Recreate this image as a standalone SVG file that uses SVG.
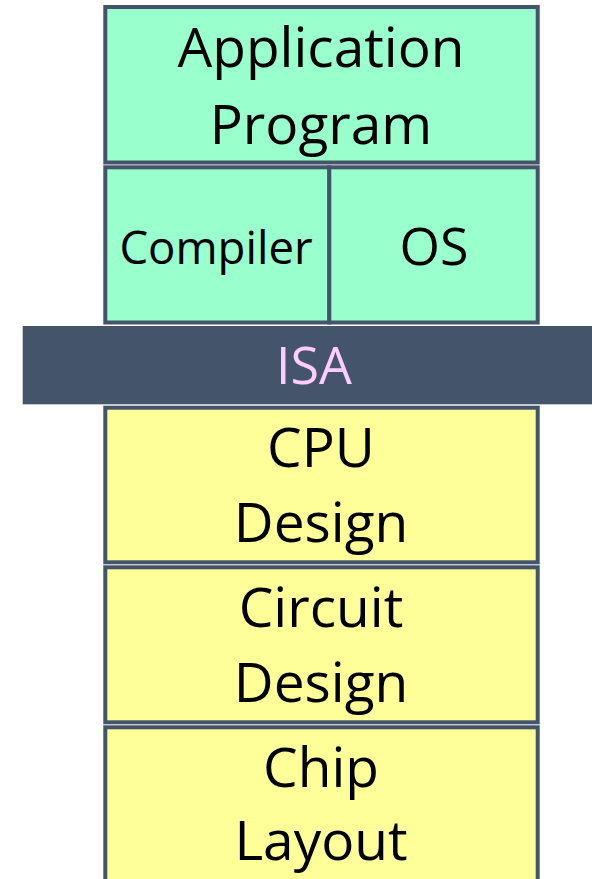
<svg xmlns="http://www.w3.org/2000/svg" width="592" height="879" viewBox="0 0 592 879">
<style>
.box{stroke:#44546A;stroke-width:4}
.g{fill:#99FFCC}
.y{fill:#FFFF99}
text{font-family:"Open Sans","Noto Sans","Liberation Sans",sans-serif;text-anchor:middle;fill:#000}
.big{font-size:55px}
</style>
<rect width="592" height="879" fill="#FFFFFF"/>
<g id="app">
<rect class="box g" x="105.3" y="7" width="432.4" height="155.5"/>
<text class="big" x="321" y="67">Application</text>
<text class="big" x="321" y="143.5">Program</text>
</g>
<g id="compiler">
<rect class="box g" x="105.3" y="167.3" width="224" height="155.2"/>
<text x="216" y="263.5" style="font-size:45.5px">Compiler</text>
</g>
<g id="os">
<rect class="box g" x="329.3" y="167.3" width="208.4" height="155.2"/>
<text x="434" y="265" style="font-size:52px">OS</text>
</g>
<g id="isa">
<rect x="22.7" y="326" width="570" height="78.3" fill="#44546A"/>
<text x="314" y="383.5" style="font-size:52px;fill:#FFCCFF">ISA</text>
</g>
<g id="cpu">
<rect class="box y" x="105.3" y="407.7" width="432.4" height="154.6"/>
<text class="big" x="321" y="467">CPU</text>
<text class="big" x="321" y="542">Design</text>
</g>
<g id="circuit">
<rect class="box y" x="105.3" y="567.3" width="432.4" height="155"/>
<text class="big" x="321" y="627">Circuit</text>
<text class="big" x="321" y="702">Design</text>
</g>
<g id="chip">
<rect class="box y" x="105.3" y="727.3" width="432.4" height="170"/>
<text class="big" x="321" y="787">Chip</text>
<text class="big" x="321" y="860">Layout</text>
</g>
<g id="connectors"></g>
</svg>
